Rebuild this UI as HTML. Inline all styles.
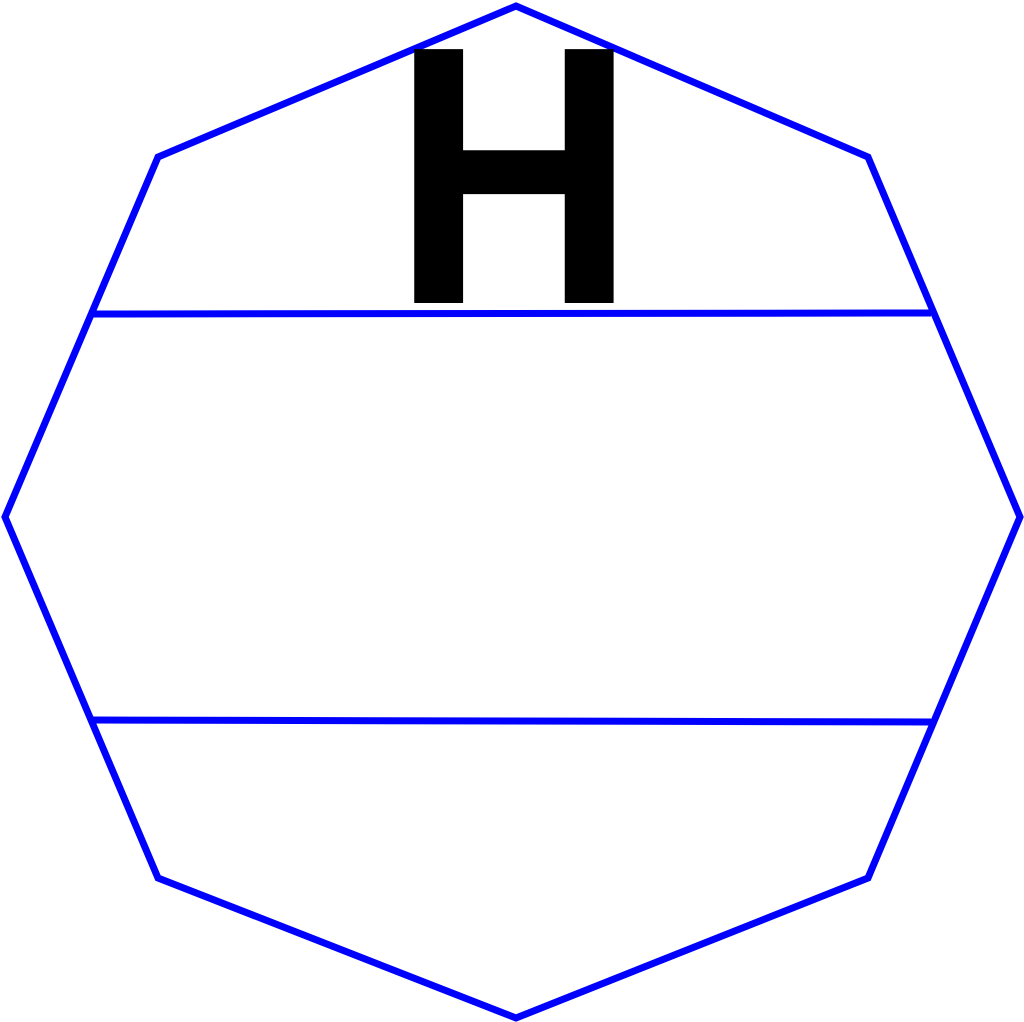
<!DOCTYPE html>
<html>
<head>
<meta charset="utf-8">
<style>
html,body{margin:0;padding:0;background:#fff;}
svg{display:block;}
</style>
</head>
<body>
<svg width="1024" height="1022" viewBox="0 0 1024 1022">
  <polygon
    points="516,6 868,157 1020,517 868,878 516,1018 158,878 5,517 158,157"
    fill="none" stroke="#0000ff" stroke-width="7" stroke-linejoin="miter"/>
  <line x1="92" y1="314" x2="931" y2="313" stroke="#0000ff" stroke-width="7"/>
  <line x1="92" y1="720" x2="931" y2="722" stroke="#0000ff" stroke-width="7"/>
  <g transform="translate(514,303) scale(0.919,1)">
    <text x="0" y="0" text-anchor="middle"
      font-family="Liberation Sans, Arial, sans-serif" font-weight="bold" font-size="369" fill="#000">H</text>
  </g>
</svg>
</body>
</html>
